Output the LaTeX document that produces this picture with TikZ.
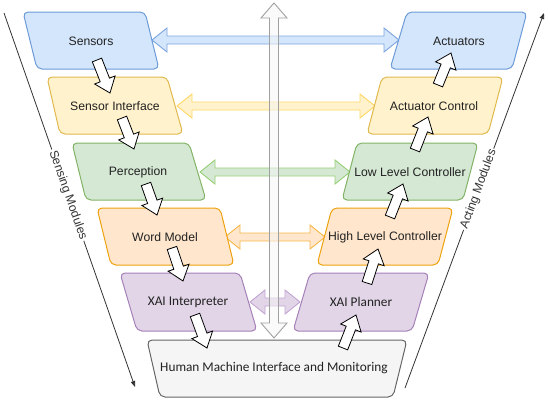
\documentclass[tikz,border=0pt]{standalone}
\usepackage{fontspec}
\setmainfont{Liberation Sans}
\newfontfamily\calibri{Carlito}
\usetikzlibrary{calc,arrows.meta}
\definecolor{bfill}{HTML}{D4E6FB}\definecolor{bline}{HTML}{6C9BD8}
\definecolor{yfill}{HTML}{FFF2CC}\definecolor{yline}{HTML}{E0B84E}
\definecolor{gfill}{HTML}{D5E8D4}\definecolor{gline}{HTML}{82B366}
\definecolor{ofill}{HTML}{FFE6CC}\definecolor{oline}{HTML}{EDA20E}
\definecolor{pfill}{HTML}{E1D5E7}\definecolor{pline}{HTML}{A680B8}
\definecolor{hfill}{HTML}{F5F5F5}\definecolor{hline}{HTML}{666666}
\definecolor{abline}{HTML}{7EA6E0}\definecolor{ayline}{HTML}{FFD966}
\definecolor{agline}{HTML}{97D077}\definecolor{aoline}{HTML}{F7B84B}
\definecolor{apline}{HTML}{C3A6D4}\definecolor{grayline}{HTML}{A0A0A0}
\definecolor{tcol}{HTML}{222222}\definecolor{sidecol}{HTML}{333333}
\tikzset{
  box/.style={line width=1pt, rounded corners=5pt},
  bbox/.style={box, fill=bfill, draw=bline},
  ybox/.style={box, fill=yfill, draw=yline},
  gbox/.style={box, fill=gfill, draw=gline},
  obox/.style={box, fill=ofill, draw=oline},
  pbox/.style={box, fill=pfill, draw=pline},
  hbox/.style={box, fill=hfill, draw=hline},
  txt/.style={font=\fontsize{12.2}{14}\selectfont, text=tcol, inner sep=0pt},
  xtxt/.style={font=\calibri\fontsize{13.3}{15}\selectfont, text=tcol, inner sep=0pt},
  harr/.style={line width=0.9pt, line join=miter},
  warr/.style={fill=white, draw=black, line width=0.8pt, line join=miter},
  side/.style={draw=sidecol, line width=0.8pt, -{Triangle[length=6pt,width=4.5pt]}},
  sidetxt/.style={font=\fontsize{12.2}{14}\selectfont, text=sidecol, fill=white, inner sep=1.5pt},
}
% box: style, xtl, xtr, xbl, xbr, ytop, ybot
\newcommand\pgbox[7]{\draw[#1] ({(#2+#3)/2},#6) -- (#3,#6) -- (#5,#7) -- (#4,#7) -- (#2,#6) -- cycle;}
% single block arrow: style, from, to, half shaft, half head, head length
\newcommand\blockarr[6]{%
  \coordinate (ba-n) at ($(#3)!#6!(#2)$);
  \draw[#1] ($(#2)!#4!90:(#3)$) -- ($(ba-n)!#4!90:(#3)$) -- ($(ba-n)!#5!90:(#3)$) -- (#3)
    -- ($(ba-n)!#5!-90:(#3)$) -- ($(ba-n)!#4!-90:(#3)$) -- ($(#2)!#4!-90:(#3)$) -- cycle;}
% double block arrow
\newcommand\dblarr[6]{%
  \coordinate (da-a) at ($(#2)!#6!(#3)$);
  \coordinate (da-b) at ($(#3)!#6!(#2)$);
  \draw[#1] (#2) -- ($(da-a)!#5!90:(#3)$) -- ($(da-a)!#4!90:(#3)$) -- ($(da-b)!#4!90:(#3)$)
    -- ($(da-b)!#5!90:(#3)$) -- (#3) -- ($(da-b)!#5!-90:(#3)$) -- ($(da-b)!#4!-90:(#3)$)
    -- ($(da-a)!#4!-90:(#3)$) -- ($(da-a)!#5!-90:(#3)$) -- cycle;}
\begin{document}
\begin{tikzpicture}[x=1pt,y=-1pt]
\useasboundingbox (0,0) rectangle (550,402);
% horizontal links
\coordinate (hb1) at (152,40);  \coordinate (hb2) at (399,40);
\coordinate (hy1) at (177,106); \coordinate (hy2) at (375,106);
\coordinate (hg1) at (200,172); \coordinate (hg2) at (350,172);
\coordinate (ho1) at (225,237); \coordinate (ho2) at (325,237);
\coordinate (hp1) at (250,302); \coordinate (hp2) at (300,302);
\dblarr{harr, fill=bfill, draw=abline}{hb1}{hb2}{4pt}{12pt}{15pt}
\dblarr{harr, fill=yfill, draw=ayline}{hy1}{hy2}{4pt}{12pt}{15pt}
\dblarr{harr, fill=gfill, draw=agline}{hg1}{hg2}{4pt}{12pt}{15pt}
\dblarr{harr, fill=ofill, draw=aoline}{ho1}{ho2}{4pt}{12pt}{15pt}
\dblarr{harr, fill=pfill, draw=apline}{hp1}{hp2}{4pt}{12pt}{15pt}
% central vertical arrow
\coordinate (vt) at (274,3); \coordinate (vb) at (274,338);
\dblarr{harr, fill=hfill, fill opacity=0.55, draw=grayline}{vb}{vt}{4.5pt}{13pt}{15pt}
% boxes
\pgbox{bbox}{23}{145}{37}{159}{12}{69}
\pgbox{bbox}{407}{527}{390}{512}{12}{69}
\pgbox{ybox}{47}{167}{60}{183}{77}{134}
\pgbox{ybox}{382}{503}{367}{488}{77}{134}
\pgbox{gbox}{72}{189}{86}{206}{143}{200}
\pgbox{gbox}{357}{478}{342}{463}{143}{200}
\pgbox{obox}{97}{220}{111}{234}{208}{265}
\pgbox{obox}{332}{453}{317}{438}{208}{265}
\pgbox{pbox}{120}{240}{137}{257}{273}{331}
\pgbox{pbox}{310}{429}{293}{412}{273}{331}
\pgbox{hbox}{147}{407}{160}{393}{340}{397}
\node[txt] (sensors) at (91,41) {Sensors};
\node[txt] (actuators) at (459,41) {Actuators};
\node[txt] (sensint) at (115,106) {Sensor Interface};
\node[txt] (actctl) at (434,106) {Actuator Control};
\node[txt] (percep) at (138,172) {Perception};
\node[txt] (llc) at (410,172) {Low Level Controller};
\node[txt] (world) at (165,237) {Word Model};
\node[txt] (hlc) at (385,237) {High Level Controller};
\node[xtxt] (xaii) at (188,302) {XAI Interpreter};
\node[xtxt] (xaip) at (361,302) {XAI Planner};
\node[xtxt] (hmi) at (274,368) {Human Machine Interface and Monitoring};
% white flow arrows
\coordinate (w1a) at (97,60);   \coordinate (w1b) at (110,93);
\coordinate (w2a) at (122,118); \coordinate (w2b) at (134,149);
\coordinate (w3a) at (146,184); \coordinate (w3b) at (157,215);
\coordinate (w4a) at (172,248); \coordinate (w4b) at (183,281);
\coordinate (w5a) at (195,315); \coordinate (w5b) at (207,348);
\coordinate (w6a) at (343,348); \coordinate (w6b) at (356,315);
\coordinate (w7a) at (367,283); \coordinate (w7b) at (378,249);
\coordinate (w8a) at (390,217); \coordinate (w8b) at (403,184);
\coordinate (w9a) at (415,150); \coordinate (w9b) at (428,117);
\coordinate (w10a) at (438,85); \coordinate (w10b) at (451,53);
\foreach \i in {1,...,10}{\blockarr{warr}{w\i a}{w\i b}{5pt}{11pt}{14pt}}
% side axes
\coordinate (sen1) at (4,13); \coordinate (sen2) at (135,387);
\coordinate (act1) at (405,388); \coordinate (act2) at (544,13);
\draw[side] (sen1) -- node[pos=0.487, sloped, sidetxt] (senlbl) {Sensing Modules} (sen2);
\draw[side] (act1) -- node[pos=0.53, sloped, sidetxt] (actlbl) {Acting Modules} (act2);
\end{tikzpicture}
\end{document}
